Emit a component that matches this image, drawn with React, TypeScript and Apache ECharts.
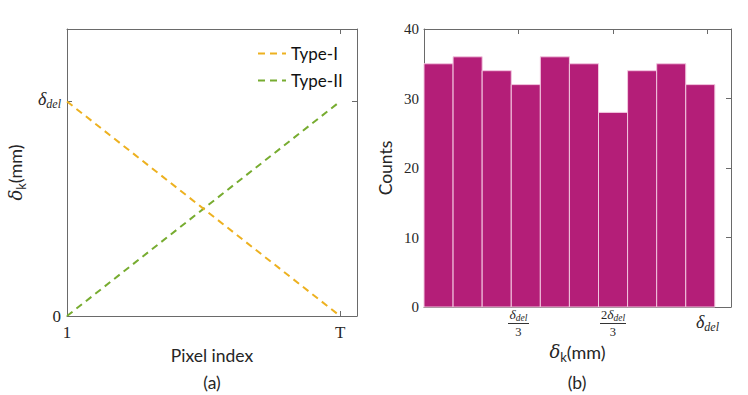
import React, { useEffect, useRef } from "react";
import * as echarts from "echarts";

// Panel (a): normalised pixel index (0 -> "1", 1 -> "T") vs delta_k (0 -> 0, 1 -> delta_del)
const seriesNames = ["Type-I", "Type-II"];
const typeI = [
  [0, 1],
  [1, 0],
];
const typeII = [
  [0, 0],
  [1, 1],
];
const leftXTicks = [0, 1];
const leftXTickLabels = ["1", "T"];
const leftYTicks = [0, 1];

// Panel (b): histogram of delta_k (in units of delta_del)
const binEdges = [0, 0.1026, 0.2052, 0.3078, 0.4104, 0.513, 0.6156, 0.7182, 0.8208, 0.9234, 1.026];
const counts = [35, 36, 34, 32, 36, 35, 28, 34, 35, 32];
const rightXTicks = [1 / 3, 2 / 3, 1];
const countTicks = [0, 10, 20, 30, 40];

const AXIS = "#6a6a6a";
const TXT = "#262626";
const SERIF = "'Liberation Serif', 'DejaVu Serif', serif";
const SANS = "Lato, 'Open Sans', sans-serif";

const delRich = {
  d: { fontFamily: SERIF, fontStyle: "italic", fontSize: 18, color: TXT, lineHeight: 17, padding: [0, 0, 5, 0] },
  s: { fontFamily: SERIF, fontStyle: "italic", fontSize: 12, color: TXT, lineHeight: 11, verticalAlign: "bottom" },
  n: { fontFamily: SERIF, fontStyle: "italic", fontSize: 13.5, color: TXT, lineHeight: 13, padding: [0, 0, 3, 0] },
  ns: { fontFamily: SERIF, fontStyle: "italic", fontSize: 9.5, color: TXT, lineHeight: 9, verticalAlign: "bottom" },
  nn: { fontFamily: SERIF, fontSize: 12.5, color: TXT, lineHeight: 13, padding: [0, 0, 3, 0] },
  bar1: { width: 21, height: 1, lineHeight: 2, fontSize: 1, backgroundColor: "#333" },
  bar2: { width: 26, height: 1, lineHeight: 2, fontSize: 1, backgroundColor: "#333" },
  den: { fontFamily: SERIF, fontSize: 12.5, color: TXT, lineHeight: 14 },
};

const titleRich = {
  g: { fontFamily: "'DejaVu Serif', serif", fontStyle: "italic", fontSize: 18, color: TXT, lineHeight: 18, padding: [0, 0, 6, 0] },
  k: { fontFamily: SANS, fontSize: 13, color: TXT, lineHeight: 13, verticalAlign: "bottom" },
  m: { fontFamily: SANS, fontSize: 18, color: TXT, lineHeight: 18, padding: [0, 0, 6, 0] },
};

const near = (a: number, b: number) => Math.abs(a - b) < 1e-6;

export default function App() {
  const ref = useRef<HTMLDivElement>(null);
  useEffect(() => {
    if (!ref.current) return;
    const chart = echarts.init(ref.current, undefined, { renderer: "svg" });
    const boxAxis = (extra: any) => ({
      axisLine: { show: true, onZero: false, lineStyle: { color: AXIS, width: 1 } },
      splitLine: { show: false },
      ...extra,
    });
    chart.setOption({
      animation: false,
      backgroundColor: "#ffffff",
      grid: [
        { left: 67, top: 29, width: 290, height: 287 },
        { left: 424, top: 29, width: 307, height: 278 },
      ],
      legend: {
        data: seriesNames,
        orient: "vertical",
        left: 252,
        top: 40,
        itemWidth: 28,
        itemHeight: 14,
        itemGap: 10,
        itemStyle: { opacity: 0 },
        textStyle: { fontFamily: SANS, fontSize: 17, color: "#111" },
      },
      xAxis: [
        boxAxis({
          type: "value",
          gridIndex: 0,
          position: "bottom",
          min: 0,
          max: 1.062,
          name: "Pixel index",
          nameLocation: "middle",
          nameGap: 30,
          nameTextStyle: { fontFamily: SANS, fontSize: 17.5, color: TXT },
          axisTick: { inside: true, length: 5, customValues: leftXTicks, lineStyle: { color: AXIS } },
          axisLabel: {
            customValues: leftXTicks,
            margin: 16,
            verticalAlign: "middle",
            fontFamily: SERIF,
            fontSize: 17,
            color: TXT,
            formatter: (v: number) => {
              const i = leftXTicks.findIndex((t) => near(t, v));
              return i >= 0 ? leftXTickLabels[i] : "";
            },
          },
        }),
        boxAxis({
          type: "value",
          gridIndex: 0,
          position: "top",
          min: 0,
          max: 1.062,
          axisTick: { inside: true, length: 5, customValues: leftXTicks, lineStyle: { color: AXIS } },
          axisLabel: { show: false },
        }),
        boxAxis({
          type: "value",
          gridIndex: 1,
          position: "bottom",
          min: 0,
          max: 1.083,
          name: "{g|δ}{k|k}{m|(mm)}",
          nameLocation: "middle",
          nameGap: 30,
          nameTextStyle: { rich: titleRich },
          axisTick: { inside: true, length: 5, customValues: rightXTicks, lineStyle: { color: AXIS } },
          axisLabel: {
            customValues: rightXTicks,
            margin: 17,
            verticalAlign: "middle",
            formatter: (v: number) => {
              if (near(v, 1 / 3)) return "{n|δ}{ns|del}\n{bar1| }\n{den|3}";
              if (near(v, 2 / 3)) return "{nn|2}{n|δ}{ns|del}\n{bar2| }\n{den|3}";
              if (near(v, 1)) return "{d|δ}{s|del}";
              return "";
            },
            rich: delRich,
          },
        }),
        boxAxis({
          type: "value",
          gridIndex: 1,
          position: "top",
          min: 0,
          max: 1.083,
          axisTick: { inside: true, length: 5, customValues: rightXTicks, lineStyle: { color: AXIS } },
          axisLabel: { show: false },
        }),
      ],
      yAxis: [
        boxAxis({
          type: "value",
          gridIndex: 0,
          position: "left",
          min: 0,
          max: 1.338,
          name: "{g|δ}{k|k}{m|(mm)}",
          nameLocation: "middle",
          nameGap: 40,
          nameTextStyle: { rich: titleRich },
          axisTick: { inside: true, length: 5, customValues: leftYTicks, lineStyle: { color: AXIS } },
          axisLabel: {
            customValues: leftYTicks,
            margin: 6,
            formatter: (v: number) => (near(v, 0) ? "{z|0}" : near(v, 1) ? "{d|δ}{s|del}" : ""),
            rich: { ...delRich, z: { fontFamily: SERIF, fontSize: 17, color: TXT } },
          },
        }),
        boxAxis({
          type: "value",
          gridIndex: 0,
          position: "right",
          min: 0,
          max: 1.338,
          axisTick: { inside: true, length: 5, customValues: leftYTicks, lineStyle: { color: AXIS } },
          axisLabel: { show: false },
        }),
        boxAxis({
          type: "value",
          gridIndex: 1,
          position: "left",
          min: 0,
          max: 40,
          interval: 10,
          name: "Counts",
          nameLocation: "middle",
          nameGap: 30,
          nameTextStyle: { fontFamily: SANS, fontSize: 17.5, color: TXT },
          axisTick: { inside: true, length: 5, lineStyle: { color: AXIS } },
          axisLabel: {
            customValues: countTicks,
            margin: 5,
            fontFamily: SERIF,
            fontSize: 15,
            color: TXT,
          },
        }),
        boxAxis({
          type: "value",
          gridIndex: 1,
          position: "right",
          min: 0,
          max: 40,
          interval: 10,
          axisTick: { inside: true, length: 5, lineStyle: { color: AXIS } },
          axisLabel: { show: false },
        }),
      ],
      series: [
        {
          name: seriesNames[0],
          type: "line",
          xAxisIndex: 0,
          yAxisIndex: 0,
          data: typeI,
          symbol: "none",
          lineStyle: { color: "#EDB120", width: 2, type: [7, 5] },
          itemStyle: { color: "#EDB120" },
          z: 3,
        },
        {
          name: seriesNames[1],
          type: "line",
          xAxisIndex: 0,
          yAxisIndex: 0,
          data: typeII,
          symbol: "none",
          lineStyle: { color: "#77AC30", width: 2, type: [7, 5] },
          itemStyle: { color: "#77AC30" },
          z: 2,
        },
        {
          name: "hist",
          type: "custom",
          xAxisIndex: 2,
          yAxisIndex: 2,
          data: counts.map((c, i) => [binEdges[i], binEdges[i + 1], c]),
          encode: { x: [0, 1], y: 2 },
          renderItem: (params: any, api: any) => {
            const p0 = api.coord([api.value(0), api.value(2)]);
            const p1 = api.coord([api.value(1), 0]);
            return {
              type: "rect",
              shape: { x: p0[0], y: p0[1], width: p1[0] - p0[0], height: p1[1] - p0[1] },
              style: { fill: "#B41E78", stroke: "#F2C6DF", lineWidth: 1 },
            };
          },
        },
      ],
      graphic: [
        {
          type: "text",
          x: 212,
          y: 382,
          style: { text: "(a)", fontFamily: SANS, fontSize: 17.5, fill: TXT, textAlign: "center", textVerticalAlign: "middle" },
        },
        {
          type: "text",
          x: 577,
          y: 382,
          style: { text: "(b)", fontFamily: SANS, fontSize: 17.5, fill: TXT, textAlign: "center", textVerticalAlign: "middle" },
        },
      ],
    });
    return () => chart.dispose();
  }, []);
  return (
    <div
      ref={ref}
      style={{ position: "fixed", left: 0, top: 0, width: 748, height: 395, background: "#fff" }}
    />
  );
}
